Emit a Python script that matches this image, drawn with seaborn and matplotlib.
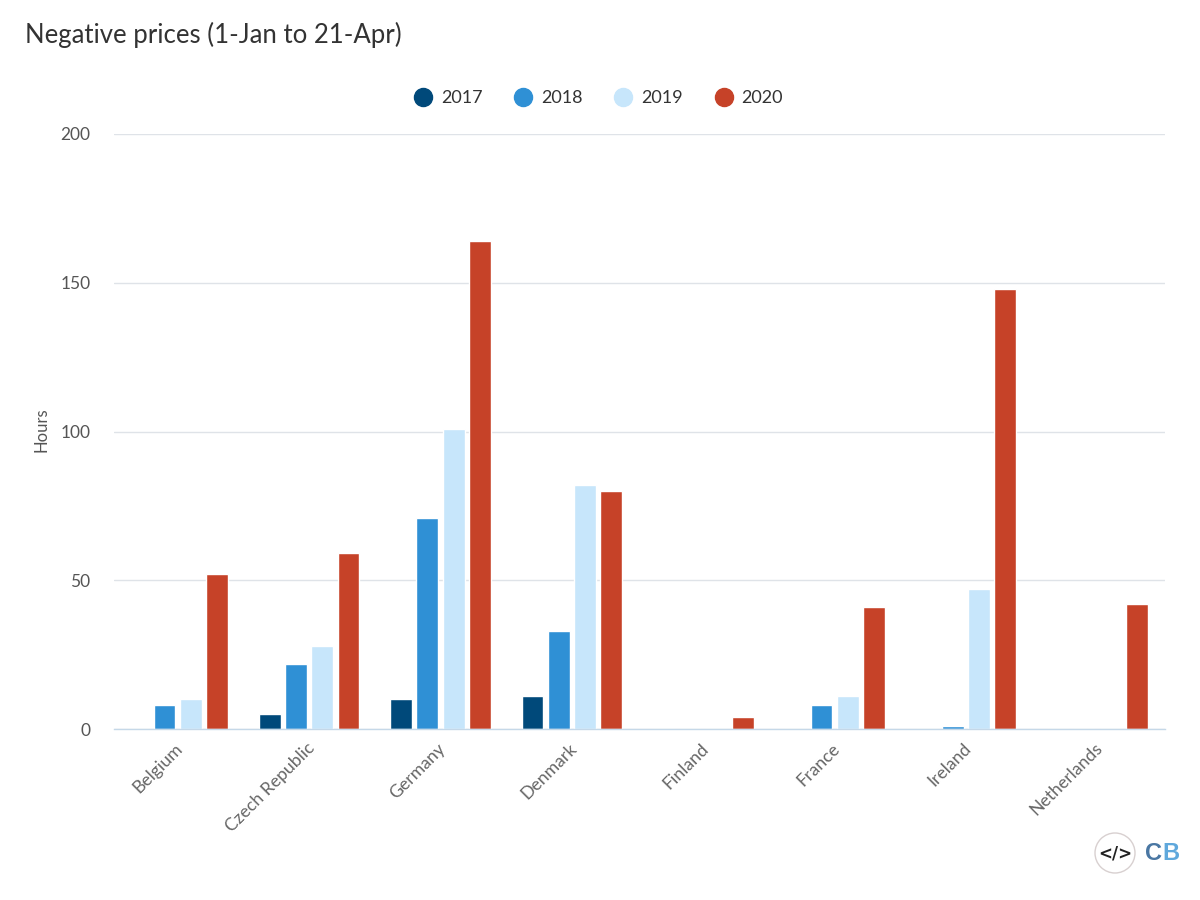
import numpy as np
import pandas as pd
import matplotlib
matplotlib.use("Agg")
import matplotlib.pyplot as plt
from matplotlib.lines import Line2D
from matplotlib.patches import Circle
from matplotlib.transforms import ScaledTranslation
import seaborn as sns

countries = ["Belgium", "Czech Republic", "Germany", "Denmark", "Finland", "France", "Ireland", "Netherlands"]
years = ["2017", "2018", "2019", "2020"]
v2017 = [0, 5, 10, 11, 0, 0, 0, 0]
v2018 = [8, 22, 71, 33, 0, 8, 1, 0]
v2019 = [10, 28, 101, 82, 0, 11, 47, 0]
v2020 = [52, 59, 164, 80, 4, 41, 148, 42]
colors = ["#00497a", "#2f90d5", "#c7e6fb", "#c64228"]

df = pd.DataFrame({"country": countries, "2017": v2017, "2018": v2018, "2019": v2019, "2020": v2020})
long = df.melt(id_vars="country", var_name="year", value_name="hours")

sns.set_theme(style="white")
plt.rcParams["font.family"] = ["Lato", "DejaVu Sans"]
fig = plt.figure(figsize=(12, 9), dpi=100)
ax = fig.add_axes([114/1200, 1-729/900, (1165-114)/1200, (729-134)/900])
sns.barplot(data=long, x="country", y="hours", hue="year", hue_order=years, palette=colors,
            order=countries, width=0.8, gap=0.17, saturation=1, legend=False, ax=ax)
ax.set_xlim(-0.485, 7.515)
ax.set_ylim(0, 200)
ax.set_yticks([0, 50, 100, 150, 200])
ax.yaxis.grid(True, color="#dfe3e8", lw=1)
ax.set_axisbelow(True)
for s in ["top", "left", "right"]:
    ax.spines[s].set_visible(False)
ax.spines["bottom"].set_color("#c5d8e8")
ax.spines["bottom"].set_linewidth(1)
ax.tick_params(axis="y", length=0, labelsize=12.5, labelcolor="#555555", pad=17)
ax.tick_params(axis="x", length=0, labelcolor="#666666", pad=8)
ax.set_xticks(range(8))
ax.set_xticklabels(countries, rotation=45, ha="right", rotation_mode="anchor", fontsize=12.7, color="#666666")
shift = ScaledTranslation(-3/100, 0, fig.dpi_scale_trans)
for lab in ax.get_xticklabels():
    lab.set_transform(lab.get_transform() + shift)
ax.set_xlabel("")
ax.set_ylabel("Hours", fontsize=12, color="#555555")
ax.yaxis.set_label_coords(-65/1051, 0.5025)

fig.text(25/1200, 1-35/900, "Negative prices (1-Jan to 21-Apr)", fontsize=18.55, color="#333333", va="center", ha="left")

handles = [Line2D([], [], marker="o", ls="", ms=13, color=c) for c in colors]
fig.legend(handles, years, loc="center", bbox_to_anchor=(594/1200, 1-98/900), ncol=4, frameon=False,
           fontsize=13, labelcolor="#333333", columnspacing=1.25, handletextpad=0.0)

logo = fig.add_axes([0, 0, 1, 1], facecolor="none")
logo.set_xlim(0, 1200); logo.set_ylim(900, 0); logo.axis("off")
logo.add_patch(Circle((1115, 853), 20, fc="white", ec="#d8d0d0", lw=1))
logo.text(1115, 853, "</>", ha="center", va="center", fontsize=12, fontweight="bold",
          family="DejaVu Sans", color="#222222")
logo.text(1154, 853, "C", ha="center", va="center", fontsize=17, fontweight="bold",
          family="Liberation Sans", color="#4a77a3")
logo.text(1171, 853, "B", ha="center", va="center", fontsize=17, fontweight="bold",
          family="Liberation Sans", color="#5fa8dc")

fig.savefig("out.png", dpi=100, facecolor="white")
